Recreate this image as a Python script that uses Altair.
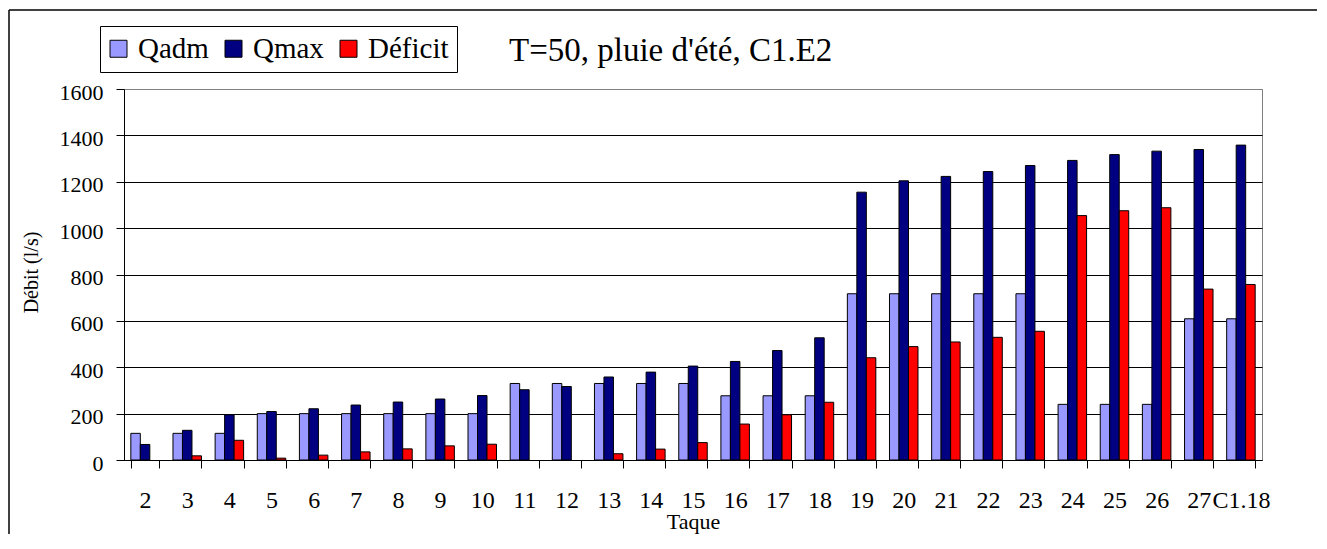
import altair as alt
import pandas as pd

categories = ["2", "3", "4", "5", "6", "7", "8", "9", "10", "11", "12", "13", "14",
              "15", "16", "17", "18", "19", "20", "21", "22", "23", "24", "25", "26",
              "27", "C1.18"]
qadm = [115, 115, 115, 200, 200, 200, 200, 200, 200, 330, 330, 330, 330, 330,
        277, 277, 277, 717, 717, 717, 717, 717, 240, 240, 240, 609, 609]
qmax = [67, 128, 195, 209, 221, 237, 250, 263, 278, 303, 317, 358, 379, 405,
        425, 472, 527, 1155, 1204, 1223, 1244, 1270, 1292, 1317, 1332, 1339, 1358]
deficit = [0, 18, 85, 8, 21, 35, 48, 61, 68, 0, 0, 27, 47, 75,
           155, 195, 249, 441, 489, 509, 529, 555, 1054, 1075, 1088, 737, 757]
series = ["Qadm", "Qmax", "Déficit"]
colors = ["#9999FF", "#000080", "#FF0000"]
y_ticks = [0, 200, 400, 600, 800, 1000, 1200, 1400, 1600]
TITLE = "T=50, pluie d'été, C1.E2"
FONT = "Liberation Serif"

rows = []
for name, vals in zip(series, [qadm, qmax, deficit]):
    for c, v in zip(categories, vals):
        rows.append({"Taque": c, "Série": name, "value": v})
df = pd.DataFrame(rows)

W, H = 1138, 371

bars = alt.Chart(df).transform_filter("datum.value > 0").mark_bar(
    stroke="black", strokeWidth=1
).encode(
    x=alt.X("Taque:N", sort=categories,
            scale=alt.Scale(paddingInner=0.324, paddingOuter=0.162),
            axis=alt.Axis(title="Taque", labelAngle=0, tickBand="extent",
                          tickSize=8, tickColor="black", domainColor="black",
                          labelFont=FONT, labelFontSize=24, labelColor="black",
                          labelBaseline="alphabetic", labelPadding=39,
                          titleFont=FONT, titleFontSize=22, titleFontWeight="normal",
                          titleColor="black", titleY=68, titleBaseline="alphabetic",
                          grid=False)),
    xOffset=alt.XOffset("Série:N", sort=series,
                        scale=alt.Scale(domain=series, paddingInner=0, paddingOuter=0)),
    y=alt.Y("value:Q", scale=alt.Scale(domain=[0, 1600], nice=False),
            axis=alt.Axis(title="Débit (l/s)", values=y_ticks, format="d", grid=True,
                          gridColor={"condition": {"test": "datum.value == 1600", "value": "#808080"},
                                     "value": "black"},
                          gridWidth=1, tickSize=8, tickColor="black", domainColor="black",
                          labelFont=FONT, labelFontSize=22, labelColor="black",
                          labelPadding=13, labelOffset=3,
                          titleFont=FONT, titleFontSize=20, titleFontWeight="normal",
                          titleColor="black", titleX=-87, titleY=183,
                          titleBaseline="alphabetic", titleAlign="center")),
    color=alt.Color("Série:N", sort=series,
                    scale=alt.Scale(domain=series, range=colors),
                    legend=alt.Legend(title=None, orient="none", legendX=-24, legendY=-63,
                                      direction="horizontal", columns=3,
                                      symbolType="square", symbolSize=289,
                                      symbolStrokeColor="black", symbolStrokeWidth=1,
                                      symbolOpacity=1, symbolOffset=-4,
                                      labelFont=FONT, labelFontSize=29, labelColor="black",
                                      labelOffset=5, columnPadding=14, padding=8,
                                      strokeColor="black", fillColor="white")),
)

one = alt.Data(values=[{}])
title = alt.Chart(one).mark_text(
    font=FONT, fontSize=33, color="black", align="left", baseline="alphabetic"
).encode(x=alt.value(385), y=alt.value(-27.6), text=alt.value(TITLE))

frame_left = alt.Chart(one).mark_rule(color="black", strokeWidth=1.5).encode(
    x=alt.value(-115), y=alt.value(-79), y2=alt.value(H + 200))
frame_top = alt.Chart(one).mark_rule(color="black", strokeWidth=1.5).encode(
    x=alt.value(-115), x2=alt.value(W + 200), y=alt.value(-79))

chart = alt.layer(bars, title, frame_left, frame_top).properties(
    width=W, height=H,
    autosize=alt.AutoSizeParams(type="none"),
    padding={"left": 116, "top": 81, "right": 55, "bottom": 74},
).configure(background="white", font=FONT).configure_view(stroke="#808080", strokeWidth=1)

chart.save("out.html", embed_options={"renderer": "svg", "actions": False})
